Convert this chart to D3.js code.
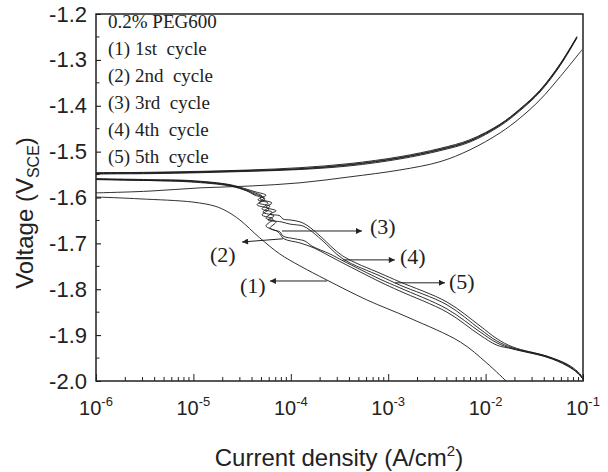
<!DOCTYPE html>
<html>
<head>
<meta charset="utf-8">
<script src="https://cdn.jsdelivr.net/npm/d3@7"></script>
<style>
  body { margin: 0; background: #fff; }
  svg { display: block; }
  .tick-label { font-family: "Liberation Sans", Arial, sans-serif; fill: #222; }
  .serif { font-family: "Liberation Serif", "Times New Roman", serif; fill: #222; white-space: pre; }
</style>
</head>
<body>
<div id="chart"></div>
<script>
// Tafel curves, 0.2% PEG600, cycles 1-5. Points are [current density A/cm2, voltage V_SCE]
const cycle1Cathodic = [[1e-7,-1.595],[1e-6,-1.599],[2.83e-6,-1.603],[9.9e-6,-1.610],[1.67e-5,-1.619],[2.2e-5,-1.630],[3.0e-5,-1.649],[4.8e-5,-1.688],[7.7e-5,-1.723],[1.24e-4,-1.749],[2.35e-4,-1.780],[6.0e-4,-1.823],[1.67e-3,-1.863],[5.5e-3,-1.915],[1.03e-2,-1.961],[1.66e-2,-2.002]];
const cycle1Anodic = [[1e-7,-1.595],[1e-6,-1.590],[3.58e-6,-1.586],[1.17e-5,-1.579],[3.81e-5,-1.575],[1.24e-4,-1.568],[4.05e-4,-1.555],[1.32e-3,-1.540],[3.40e-3,-1.522],[6.92e-3,-1.496],[1.41e-2,-1.459],[2.25e-2,-1.427],[3.62e-2,-1.387],[5.81e-2,-1.337],[9.77e-2,-1.278]];

const cycle2Cathodic = [[1e-7,-1.555],[1e-6,-1.560],[3.58e-6,-1.562],[9.23e-6,-1.564],[2.38e-5,-1.573],[3.55e-5,-1.584],
  [4.29e-5,-1.590],[5.06e-5,-1.597],[4.60e-5,-1.605],[5.83e-5,-1.612],[5.06e-5,-1.625],[6.41e-5,-1.632],[5.56e-5,-1.645],[7.05e-5,-1.653],[6.11e-5,-1.667],[7.74e-5,-1.675],[8.31e-5,-1.684],
  [1.10e-4,-1.690],[1.40e-4,-1.695],[1.65e-4,-1.706],[2.52e-4,-1.723],[3.44e-4,-1.738],[8.24e-4,-1.778],[1.32e-3,-1.797],[4.02e-3,-1.843],[8.77e-3,-1.893],[1.31e-2,-1.917],[1.91e-2,-1.930],[4.27e-2,-1.948],[6.85e-2,-1.965],[8.89e-2,-1.983],[1.0e-1,-1.993]];
const cycle3Cathodic = [[1e-7,-1.555],[1e-6,-1.559],[3.58e-6,-1.561],[9.23e-6,-1.563],[2.38e-5,-1.572],[3.55e-5,-1.582],
  [4.39e-5,-1.588],[5.56e-5,-1.595],[4.83e-5,-1.603],[6.41e-5,-1.612],[5.56e-5,-1.621],[7.05e-5,-1.629],[6.11e-5,-1.636],[7.74e-5,-1.640],[8.31e-5,-1.647],
  [9.82e-5,-1.649],[1.24e-4,-1.653],[1.50e-4,-1.662],[2.00e-4,-1.684],[3.44e-4,-1.728],[8.24e-4,-1.765],[1.32e-3,-1.784],[4.02e-3,-1.828],[8.77e-3,-1.880],[1.31e-2,-1.908],[1.91e-2,-1.926],[4.27e-2,-1.946],[6.85e-2,-1.963],[8.89e-2,-1.980],[1.0e-1,-1.993]];
const cycle4Cathodic = [[1e-7,-1.555],[1e-6,-1.561],[3.58e-6,-1.563],[9.23e-6,-1.565],[2.38e-5,-1.574],[3.55e-5,-1.585],
  [4.19e-5,-1.592],[5.31e-5,-1.601],[4.72e-5,-1.612],[6.11e-5,-1.619],[5.19e-5,-1.632],[6.72e-5,-1.640],[5.83e-5,-1.649],[7.93e-5,-1.653],
  [9.82e-5,-1.658],[1.33e-4,-1.662],[1.57e-4,-1.671],[2.09e-4,-1.693],[3.44e-4,-1.734],[8.24e-4,-1.771],[1.32e-3,-1.791],[4.02e-3,-1.834],[8.77e-3,-1.887],[1.31e-2,-1.913],[1.91e-2,-1.928],[4.27e-2,-1.946],[6.85e-2,-1.965],[8.89e-2,-1.983],[1.0e-1,-1.996]];
const cycle5Cathodic = [[1e-7,-1.555],[1e-6,-1.560],[3.58e-6,-1.563],[9.23e-6,-1.566],[2.38e-5,-1.575],[3.55e-5,-1.586],
  [4.29e-5,-1.595],[5.43e-5,-1.603],[4.50e-5,-1.616],[5.97e-5,-1.625],[5.06e-5,-1.638],[6.56e-5,-1.647],[5.56e-5,-1.662],[7.39e-5,-1.675],[8.51e-5,-1.690],
  [1.24e-4,-1.699],[1.73e-4,-1.710],[2.52e-4,-1.728],[3.44e-4,-1.743],[8.24e-4,-1.784],[1.32e-3,-1.804],[4.02e-3,-1.850],[8.77e-3,-1.900],[1.31e-2,-1.922],[1.91e-2,-1.930],[4.27e-2,-1.948],[6.85e-2,-1.967],[8.89e-2,-1.983],[1.0e-1,-1.996]];

const cycle2Anodic = [[1e-7,-1.555],[1e-6,-1.548],[3.58e-6,-1.547],[1.17e-5,-1.545],[3.81e-5,-1.542],[1.24e-4,-1.538],[4.05e-4,-1.529],[1.32e-3,-1.514],[3.40e-3,-1.496],[6.92e-3,-1.477],[1.41e-2,-1.442],[2.25e-2,-1.409],[3.62e-2,-1.368],[5.81e-2,-1.311],[8.67e-2,-1.250]];
const cycle3Anodic = [[1e-7,-1.555],[1e-6,-1.547],[3.58e-6,-1.545],[1.17e-5,-1.543],[3.81e-5,-1.540],[1.24e-4,-1.535],[4.05e-4,-1.526],[1.32e-3,-1.511],[3.40e-3,-1.493],[6.92e-3,-1.474],[1.41e-2,-1.440],[2.25e-2,-1.407],[3.62e-2,-1.366],[5.81e-2,-1.309],[8.67e-2,-1.249]];
const cycle4Anodic = [[1e-7,-1.555],[1e-6,-1.549],[3.58e-6,-1.548],[1.17e-5,-1.546],[3.81e-5,-1.543],[1.24e-4,-1.539],[4.05e-4,-1.531],[1.32e-3,-1.516],[3.40e-3,-1.498],[6.92e-3,-1.479],[1.41e-2,-1.444],[2.25e-2,-1.411],[3.62e-2,-1.370],[5.81e-2,-1.313],[8.67e-2,-1.252]];
const cycle5Anodic = [[1e-7,-1.555],[1e-6,-1.546],[3.58e-6,-1.546],[1.17e-5,-1.544],[3.81e-5,-1.541],[1.24e-4,-1.537],[4.05e-4,-1.528],[1.32e-3,-1.513],[3.40e-3,-1.495],[6.92e-3,-1.476],[1.41e-2,-1.441],[2.25e-2,-1.408],[3.62e-2,-1.367],[5.81e-2,-1.310],[8.67e-2,-1.251]];

const legendLines = ["0.2% PEG600", "(1) 1st  cycle", "(2) 2nd  cycle", "(3) 3rd  cycle", "(4) 4th  cycle", "(5) 5th  cycle"];

// callouts: label, arrow tail, arrow head, label anchor (data units)
const callouts = [
  { label: "(1)", tail: [2.36e-4, -1.782], head: [6.11e-5, -1.782], at: [3.01e-5, -1.808] },
  { label: "(2)", tail: [8.31e-5, -1.690], head: [3.16e-5, -1.697], at: [1.48e-5, -1.741] },
  { label: "(3)", tail: [8.13e-5, -1.673], head: [5.38e-4, -1.673], at: [6.50e-4, -1.680] },
  { label: "(4)", tail: [3.44e-4, -1.736], head: [1.17e-3, -1.736], at: [1.32e-3, -1.745] },
  { label: "(5)", tail: [1.17e-3, -1.786], head: [3.83e-3, -1.786], at: [4.21e-3, -1.799] }
];

const xDecades = [-6, -5, -4, -3, -2, -1];
const yTicks = [-2.0, -1.9, -1.8, -1.7, -1.6, -1.5, -1.4, -1.3, -1.2];

const W = 608, H = 472;
const plot = { left: 96, right: 583, top: 14, bottom: 381 };

const svg = d3.select('#chart').append('svg')
  .attr('width', W)
  .attr('height', H);

const x = d3.scaleLog().domain([1e-6, 1e-1]).range([plot.left, plot.right]);
const y = d3.scaleLinear().domain([-2.0, -1.2]).range([plot.bottom, plot.top]);

svg.append('defs').append('clipPath').attr('id', 'clip')
  .append('rect')
  .attr('x', plot.left).attr('y', plot.top)
  .attr('width', plot.right - plot.left).attr('height', plot.bottom - plot.top);

svg.select('defs').append('marker')
  .attr('id', 'arrow')
  .attr('viewBox', '0 0 10 10')
  .attr('refX', 10).attr('refY', 5)
  .attr('markerWidth', 8).attr('markerHeight', 6)
  .attr('markerUnits', 'userSpaceOnUse')
  .attr('orient', 'auto')
  .append('path')
  .attr('d', 'M0,0 L10,5 L0,10 z')
  .attr('fill', '#222');

// curves
const line = d3.line()
  .x(d => x(d[0]))
  .y(d => y(d[1]))
  .curve(d3.curveCatmullRom.alpha(0.5));

const curves = [cycle1Cathodic, cycle1Anodic,
  cycle2Cathodic, cycle3Cathodic, cycle4Cathodic, cycle5Cathodic,
  cycle2Anodic, cycle3Anodic, cycle4Anodic, cycle5Anodic];

svg.append('g')
  .attr('clip-path', 'url(#clip)')
  .selectAll('path')
  .data(curves)
  .enter().append('path')
  .attr('d', line)
  .attr('fill', 'none')
  .attr('stroke', '#1a1a1a')
  .attr('stroke-width', 0.9);

// y axis, ticks inward
const yMinor = d3.range(0, 16).map(k => -1.95 + k * 0.05).filter(v => Math.abs(Math.round(v * 10) - v * 10) > 0.1);

svg.append('g')
  .attr('transform', `translate(${plot.left},0)`)
  .call(d3.axisLeft(y).tickValues(yTicks).tickSize(-5).tickPadding(10).tickFormat(d => d.toFixed(1)))
  .call(g => g.select('.domain').remove())
  .call(g => g.selectAll('text')
    .attr('class', 'tick-label')
    .style('font-size', '22px')
    .attr('x', -9));

svg.append('g')
  .selectAll('line')
  .data(yMinor)
  .enter().append('line')
  .attr('x1', plot.left).attr('x2', plot.left + 3.5)
  .attr('y1', d => y(d)).attr('y2', d => y(d))
  .attr('stroke', '#222');

// x axis, ticks inward
const xMajor = xDecades.map(e => Math.pow(10, e));
const xMinor = [];
xDecades.slice(0, -1).forEach(e => {
  for (let m = 2; m <= 9; m++) xMinor.push(m * Math.pow(10, e));
});

const xAxis = svg.append('g')
  .attr('transform', `translate(0,${plot.bottom})`)
  .call(d3.axisBottom(x).tickValues(xMajor).tickSize(-7).tickFormat(''))
  .call(g => g.select('.domain').remove());

xAxis.selectAll('.tick line').attr('stroke', '#222');

svg.append('g')
  .selectAll('line')
  .data(xMinor)
  .enter().append('line')
  .attr('x1', d => x(d)).attr('x2', d => x(d))
  .attr('y1', plot.bottom).attr('y2', plot.bottom - 4)
  .attr('stroke', '#222');

const xLabels = svg.append('g')
  .selectAll('text')
  .data(xDecades)
  .enter().append('text')
  .attr('class', 'tick-label')
  .attr('x', d => x(Math.pow(10, d)))
  .attr('y', 415)
  .attr('text-anchor', 'middle')
  .style('font-size', '20px');
xLabels.append('tspan').text('10');
xLabels.append('tspan')
  .attr('dy', -9)
  .style('font-size', '13px')
  .text(d => '-' + Math.abs(d));

// frame
svg.append('rect')
  .attr('x', plot.left).attr('y', plot.top)
  .attr('width', plot.right - plot.left).attr('height', plot.bottom - plot.top)
  .attr('fill', 'none')
  .attr('stroke', '#222')
  .attr('stroke-width', 1.5);

// axis titles
const xTitle = svg.append('text')
  .attr('class', 'tick-label')
  .attr('x', 339)
  .attr('y', 466)
  .attr('text-anchor', 'middle')
  .style('font-size', '24px');
xTitle.append('tspan').text('Current density (A/cm');
xTitle.append('tspan').attr('dy', -10).style('font-size', '15px').text('2');
xTitle.append('tspan').attr('dy', 10).text(')');

const yTitle = svg.append('text')
  .attr('class', 'tick-label')
  .attr('transform', `translate(33,213) rotate(-90)`)
  .attr('text-anchor', 'middle')
  .style('font-size', '24px');
yTitle.append('tspan').text('Voltage (V');
yTitle.append('tspan').attr('dy', 6).style('font-size', '16px').text('SCE');
yTitle.append('tspan').attr('dy', -6).text(')');

// legend
svg.append('g')
  .selectAll('text')
  .data(legendLines)
  .enter().append('text')
  .attr('class', 'serif')
  .attr('x', plot.left + 12)
  .attr('y', (d, i) => 28 + i * 27)
  .style('font-size', '19px')
  .text(d => d);

// callouts
const co = svg.append('g');
co.selectAll('line')
  .data(callouts)
  .enter().append('line')
  .attr('x1', d => x(d.tail[0])).attr('y1', d => y(d.tail[1]))
  .attr('x2', d => x(d.head[0])).attr('y2', d => y(d.head[1]))
  .attr('stroke', '#222')
  .attr('stroke-width', 1)
  .attr('marker-end', 'url(#arrow)');
co.selectAll('text')
  .data(callouts)
  .enter().append('text')
  .attr('class', 'serif')
  .attr('x', d => x(d.at[0]))
  .attr('y', d => y(d.at[1]))
  .style('font-size', '22px')
  .text(d => d.label);
</script>
</body>
</html>
